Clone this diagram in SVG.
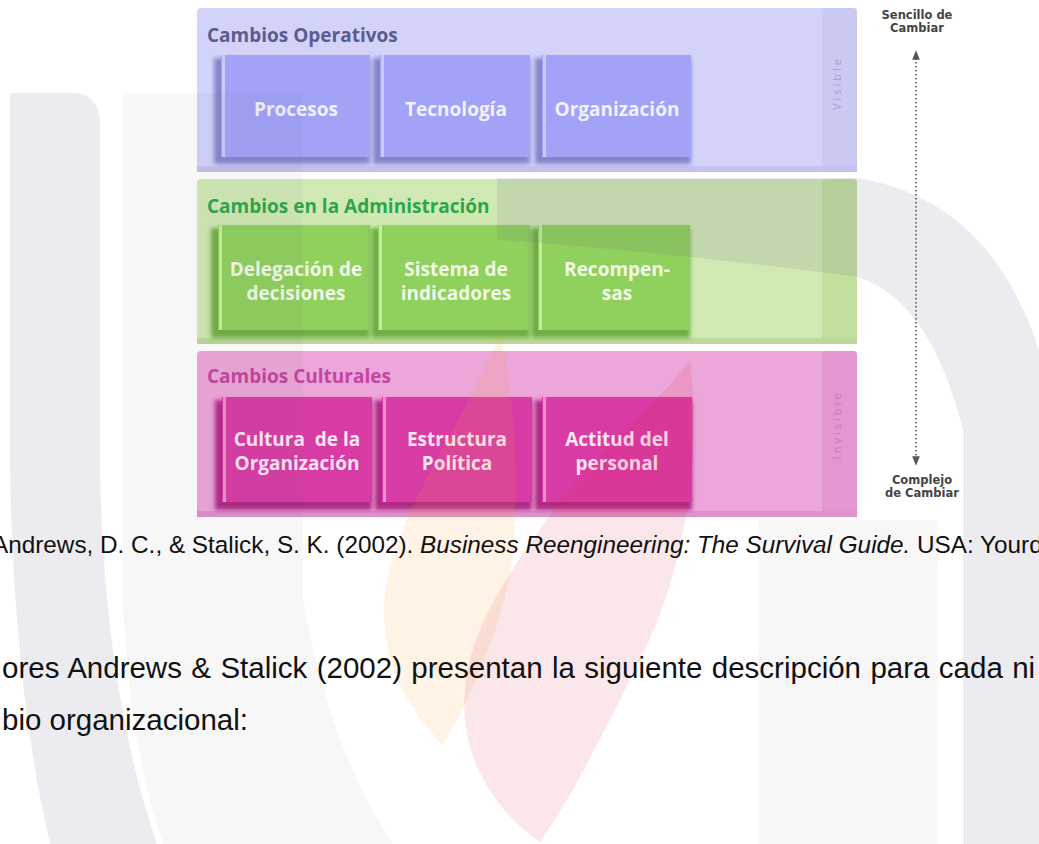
<svg xmlns="http://www.w3.org/2000/svg" width="1039" height="844" viewBox="0 0 1039 844">
<defs>
<style>
.title{font-family:"Open Sans","Noto Sans",sans-serif;font-weight:700;font-size:19px}
.lbl{font-family:"Open Sans","Noto Sans",sans-serif;font-weight:700;font-size:19px;text-anchor:middle}
.side{font-family:"Open Sans","Noto Sans",sans-serif;font-size:11px;letter-spacing:3px;text-anchor:middle}
.ends{font-family:"DejaVu Sans",sans-serif;font-weight:700;font-size:11.5px;fill:#444;text-anchor:middle}
.body{font-family:"Liberation Sans",Arial,sans-serif;fill:#111}
.sh{filter:url(#blur)}
.wm-dark{fill:#5a5a78;fill-opacity:.115}
.wm-light{fill:#5a5a78;fill-opacity:.05}
</style>
<filter id="blur" x="-10%" y="-10%" width="130%" height="130%"><feGaussianBlur stdDeviation="2"/></filter>
<marker id="ah" viewBox="0 0 10 10" refX="6" refY="5" markerWidth="6" markerHeight="6" orient="auto-start-reverse"><path d="M0,1 L10,5 L0,9 Z" fill="#555"/></marker>
</defs>
<rect width="1039" height="844" fill="#ffffff"/>

<!-- Panel: Cambios Operativos -->
<g id="panel-operativos">
<rect x="197" y="8" width="660" height="164" rx="4" fill="#d3d3fa"/>
<rect x="822" y="8" width="35" height="164" rx="4" fill="#c9c9f2"/>
<rect x="197" y="166" width="660" height="6" fill="#c2c2ec"/>
<text class="title" x="207" y="42" fill="#5b5b8f">Cambios Operativos</text>
<text class="side" transform="translate(841,83) rotate(-90)" fill="#a4a4d0">Visible</text>
</g>
<g id="node-procesos">
<rect class="sh" x="214" y="58" width="156" height="106" fill="#8585cc"/>
<rect x="221" y="55" width="149" height="102" fill="#a2a2f7"/>
<rect x="222" y="55" width="3" height="102" fill="#cacaf8"/>
<text class="lbl" x="296" y="116" fill="#f2f2ff">Procesos</text>
</g>
<g id="node-tecnologia">
<rect class="sh" x="373" y="58" width="157" height="106" fill="#8585cc"/>
<rect x="380" y="55" width="150" height="102" fill="#a2a2f7"/>
<rect x="381" y="55" width="3" height="102" fill="#cacaf8"/>
<text class="lbl" x="456" y="116" fill="#f2f2ff">Tecnología</text>
</g>
<g id="node-organizacion">
<rect class="sh" x="535" y="58" width="156" height="106" fill="#8585cc"/>
<rect x="542" y="55" width="149" height="102" fill="#a2a2f7"/>
<rect x="543" y="55" width="3" height="102" fill="#cacaf8"/>
<text class="lbl" x="617" y="116" fill="#f2f2ff">Organización</text>
</g>

<!-- Panel: Cambios en la Administración -->
<g id="panel-administracion">
<rect x="197" y="179" width="660" height="165" rx="4" fill="#d0e9b3"/>
<rect x="822" y="179" width="35" height="165" rx="4" fill="#c2df9e"/>
<rect x="197" y="338" width="660" height="6" fill="#bcd99a"/>
<text class="title" x="207" y="213" fill="#2ca64b">Cambios en la Administración</text>
</g>
<g id="node-delegacion">
<rect class="sh" x="211" y="228" width="159" height="110" fill="#6fae45"/>
<rect x="218" y="225" width="152" height="105" fill="#90d05c"/>
<rect x="219" y="225" width="3" height="105" fill="#c2eca0"/>
<text class="lbl" x="296" y="276" fill="#f2faea">Delegación de</text>
<text class="lbl" x="296" y="300" fill="#f2faea">decisiones</text>
</g>
<g id="node-sistema">
<rect class="sh" x="371" y="228" width="159" height="110" fill="#6fae45"/>
<rect x="378" y="225" width="152" height="105" fill="#90d05c"/>
<rect x="379" y="225" width="3" height="105" fill="#c2eca0"/>
<text class="lbl" x="456" y="276" fill="#f2faea">Sistema de</text>
<text class="lbl" x="456" y="300" fill="#f2faea">indicadores</text>
</g>
<g id="node-recompensas">
<rect class="sh" x="531" y="228" width="159" height="110" fill="#6fae45"/>
<rect x="538" y="225" width="152" height="105" fill="#90d05c"/>
<rect x="539" y="225" width="3" height="105" fill="#c2eca0"/>
<text class="lbl" x="617" y="276" fill="#f2faea">Recompen-</text>
<text class="lbl" x="617" y="300" fill="#f2faea">sas</text>
</g>

<!-- Panel: Cambios Culturales -->
<g id="panel-culturales">
<rect x="197" y="351" width="660" height="166" rx="4" fill="#eca6d9"/>
<rect x="822" y="351" width="35" height="166" rx="4" fill="#e396cf"/>
<rect x="197" y="511" width="660" height="6" fill="#de92c8"/>
<text class="title" x="207" y="383" fill="#c2459e">Cambios Culturales</text>
<text class="side" transform="translate(841,425) rotate(-90)" fill="#c47ab8">Invisible</text>
</g>
<g id="node-cultura">
<rect class="sh" x="215" y="400" width="157" height="110" fill="#b02a86"/>
<rect x="222" y="397" width="150" height="105" fill="#d93ba5"/>
<rect x="223" y="397" width="3" height="105" fill="#ef8fce"/>
<text class="lbl" x="297" y="446" fill="#fbe6f4" xml:space="preserve">Cultura  de la</text>
<text class="lbl" x="297" y="470" fill="#fbe6f4">Organización</text>
</g>
<g id="node-estructura">
<rect class="sh" x="375" y="400" width="157" height="110" fill="#b02a86"/>
<rect x="382" y="397" width="150" height="105" fill="#d93ba5"/>
<rect x="383" y="397" width="3" height="105" fill="#ef8fce"/>
<text class="lbl" x="457" y="446" fill="#fbe6f4">Estructura</text>
<text class="lbl" x="457" y="470" fill="#fbe6f4">Política</text>
</g>
<g id="node-actitud">
<rect class="sh" x="535" y="400" width="157" height="110" fill="#b02a86"/>
<rect x="542" y="397" width="150" height="105" fill="#d93ba5"/>
<rect x="543" y="397" width="3" height="105" fill="#ef8fce"/>
<text class="lbl" x="617" y="446" fill="#fbe6f4">Actitud del</text>
<text class="lbl" x="617" y="470" fill="#fbe6f4">personal</text>
</g>

<!-- Scale labels -->
<g id="label-sencillo">
<text class="ends" x="917" y="19">Sencillo de</text>
<text class="ends" x="917" y="32">Cambiar</text>
</g>
<g id="label-complejo">
<text class="ends" x="922" y="484">Complejo</text>
<text class="ends" x="922" y="497">de Cambiar</text>
</g>

<g id="connectors">
<line x1="916" y1="54" x2="916" y2="462" stroke="#555" stroke-width="1.6" stroke-dasharray="1.5 2.5" marker-start="url(#ah)" marker-end="url(#ah)"/>
</g>

<!-- Watermark -->
<g id="watermark">
<path class="wm-dark" d="M10,93 H72 Q100,93 100,125 V470 Q104,690 157,844 H50 Q14,690 10,470 Z"/>
<path class="wm-light" d="M123,93 H303 V600 Q330,750 393,844 H163 Q128,740 123,600 Z"/>
<path d="M500,330 C470,420 385,520 384,610 C384,680 420,720 443,745 C470,700 505,620 512,560 C520,480 515,400 500,330 Z" fill="#f39a2a" fill-opacity=".12"/>
<path d="M690,360 C700,450 690,560 640,660 C600,740 570,800 540,842 C480,800 460,740 465,690 C470,620 520,560 560,500 C620,430 670,390 690,360 Z" fill="#d9263f" fill-opacity=".11"/>
<path class="wm-dark" d="M497,178 H858 Q990,200 1039,350 V844 H963 V430 Q930,300 858,277 Q650,250 497,240 Z"/>
<path class="wm-light" d="M758,844 V520 H938 V844 Z"/>
</g>

<!-- Body text -->
<g id="citation">
<text class="body" x="-8" y="553" font-size="24.3">Andrews, D. C., &amp; Stalick, S. K. (2002). <tspan font-style="italic">Business Reengineering: The Survival Guide.</tspan> USA: Yourd</text>
</g>
<g id="paragraph">
<text class="body" x="2" y="678" font-size="29.5" word-spacing="1.2">ores Andrews &amp; Stalick (2002) presentan la siguiente descripción para cada ni</text>
<text class="body" x="2" y="730" font-size="29.5">bio organizacional:</text>
</g>
</svg>
